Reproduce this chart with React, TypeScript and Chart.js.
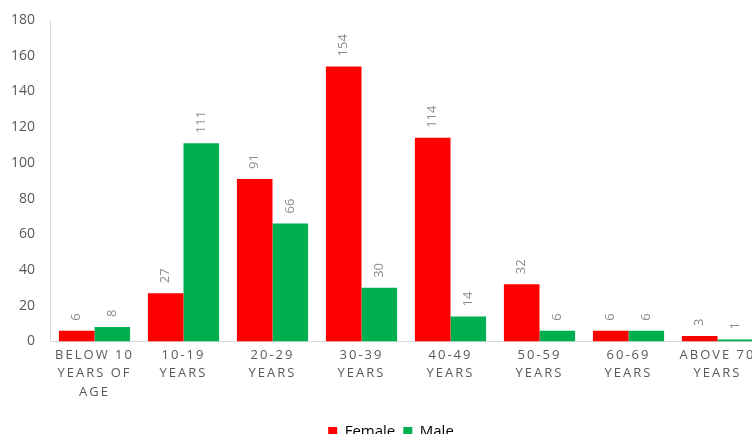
import React, { useEffect, useRef } from "react";
import { Chart, registerables } from "chart.js";

Chart.register(...registerables);

const categories: string[][] = [
  ["BELOW 10", "YEARS OF", "AGE"],
  ["10-19", "YEARS"],
  ["20-29", "YEARS"],
  ["30-39", "YEARS"],
  ["40-49", "YEARS"],
  ["50-59", "YEARS"],
  ["60-69", "YEARS"],
  ["ABOVE 70", "YEARS"],
];
const femaleValues = [6, 27, 91, 154, 114, 32, 6, 3];
const maleValues = [8, 111, 66, 30, 14, 6, 6, 1];
const yTicks = [0, 20, 40, 60, 80, 100, 120, 140, 160, 180];

const FONT = "'Open Sans', 'Liberation Sans', sans-serif";

const valueLabels = {
  id: "valueLabels",
  afterDatasetsDraw(chart: any) {
    const ctx = chart.ctx;
    ctx.save();
    ctx.fillStyle = "#8c8c8c";
    ctx.font = `13px ${FONT}`;
    ctx.textAlign = "left";
    ctx.textBaseline = "middle";
    chart.data.datasets.forEach((ds: any, di: number) => {
      const meta = chart.getDatasetMeta(di);
      meta.data.forEach((bar: any, i: number) => {
        ctx.save();
        ctx.translate(bar.x, bar.y - 10);
        ctx.rotate(-Math.PI / 2);
        ctx.fillText(String(ds.data[i]), 0, 0);
        ctx.restore();
      });
    });
    ctx.restore();
  },
};

const spacedX = {
  id: "spacedX",
  afterLayout(chart: any) {
    const lg = chart.legend;
    if (lg) {
      lg.left += 10;
      lg.right += 10;
    }
  },
  beforeDraw(chart: any) {
    const xs = chart.scales.x;
    if (xs && !xs.__patched) {
      const orig = xs.drawLabels.bind(xs);
      xs.drawLabels = (area: any) => {
        const c = chart.ctx;
        c.save();
        (c as any).letterSpacing = "2px";
        orig(area);
        c.restore();
      };
      xs.__patched = true;
    }
  },
};

export default function App() {
  const ref = useRef<HTMLCanvasElement>(null);
  useEffect(() => {
    if (!ref.current) return;
    const chart = new Chart(ref.current, {
      type: "bar",
      data: {
        labels: categories,
        datasets: [
          {
            label: "Female",
            data: femaleValues,
            backgroundColor: "#FF0000",
            borderWidth: 0,
            categoryPercentage: 0.8,
            barPercentage: 1.0,
          },
          {
            label: "Male",
            data: maleValues,
            backgroundColor: "#00B050",
            borderWidth: 0,
            categoryPercentage: 0.8,
            barPercentage: 1.0,
          },
        ],
      },
      options: {
        animation: false,
        responsive: false,
        devicePixelRatio: 1,
        layout: { padding: { top: 20, right: 8, left: 0, bottom: 0 } },
        plugins: {
          legend: {
            position: "bottom",
            labels: {
              boxWidth: 9,
              boxHeight: 9,
              color: "#000000",
              font: { size: 15, family: FONT },
              padding: 8,
            },
          },
          tooltip: { enabled: false },
        },
        scales: {
          x: {
            afterFit: (scale: any) => {
              scale.height += 10;
            },
            grid: { display: false, drawTicks: false },
            border: { display: true, color: "#d9d9d9", width: 1 },
            ticks: {
              color: "#595959",
              font: { size: 13, family: FONT, lineHeight: 1.4 },
              maxRotation: 0,
              minRotation: 0,
              autoSkip: false,
              padding: 5,
            },
          },
          y: {
            min: 0,
            max: 180,
            afterBuildTicks: (scale: any) => {
              scale.ticks = yTicks.map((v) => ({ value: v }));
            },
            afterFit: (scale: any) => {
              scale.width = 50;
              scale.paddingTop = 0;
              scale.paddingBottom = 0;
            },
            grid: { display: false, drawTicks: false },
            border: { display: true, color: "#d9d9d9", width: 1 },
            ticks: {
              color: "#595959",
              font: { size: 14, family: FONT },
              padding: 15,
            },
          },
        },
      },
      plugins: [valueLabels, spacedX],
    });
    chart.draw();
    return () => chart.destroy();
  }, []);
  return (
    <div
      style={{
        position: "fixed",
        left: 0,
        top: 0,
        width: 752,
        height: 434,
        overflow: "hidden",
        background: "#ffffff",
      }}
    >
      <canvas ref={ref} width={770} height={449} style={{ display: "block" }} />
    </div>
  );
}
